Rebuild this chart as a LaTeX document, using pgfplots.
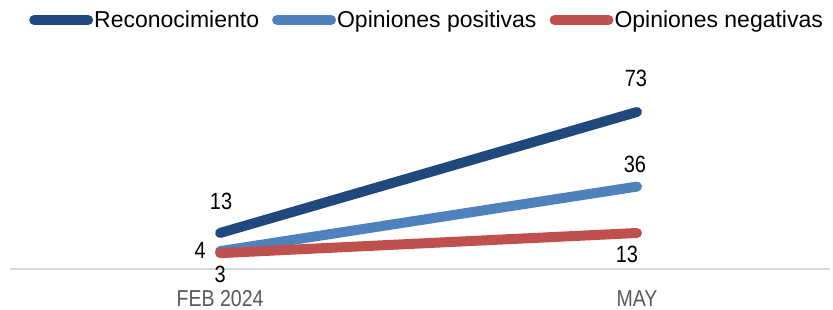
\documentclass[border=0pt]{standalone}
\usepackage{pgfplots}
\pgfplotsset{compat=1.18}
\usepackage{fontspec}
\setmainfont{Liberation Sans}
\newfontfamily\condfont{Liberation Sans}[FakeStretch=0.85]
\definecolor{cdark}{RGB}{31,73,125}
\definecolor{clight}{RGB}{79,129,189}
\definecolor{cred}{RGB}{192,80,77}
\definecolor{ctick}{RGB}{89,89,89}
\definecolor{cgrid}{RGB}{217,217,217}
\tikzset{dlab/.style={font=\condfont\fontsize{23.5bp}{27bp}\selectfont, text=black, anchor=base, inner sep=0pt}}
\begin{document}
\begin{tikzpicture}
\begin{axis}[
  at={(10bp,41bp)}, anchor=south west,
  scale only axis, width=820bp, height=224bp,
  xmin=-0.504, xmax=1.463, ymin=-4.86, ymax=106.2,
  axis x line*=bottom, axis y line=none,
  axis line style={cgrid, line width=1.3bp, -},
  xtick={0,1}, xticklabels={FEB 2024, MAY},
  xtick style={draw=none},
  xticklabel style={font=\condfont\fontsize{23bp}{27bp}\selectfont, text=ctick, anchor=base, yshift=-37bp},
  clip=false,
  legend columns=3,
  legend style={draw=none, fill=none, at={(0.508,1.1116)}, anchor=center,
    font=\fontsize{23bp}{27bp}\selectfont, text=black, inner sep=0pt,
    nodes={inner sep=1bp},
    /tikz/every even column/.append style={column sep=12bp}},
  legend image code/.code={\path (0bp,0bp) -- (54bp,0bp); \draw[line width=10bp, line cap=round, #1] (5bp,0bp) -- (49bp,0bp);},
  every axis plot/.append style={line width=10bp, line cap=round, mark=none},
]
\addplot[cdark] coordinates {(0,13) (1,73)}
  node[pos=0, dlab, xshift=1bp, yshift=23bp] {13}
  node[pos=1, dlab, xshift=-1bp, yshift=25bp] {73};
\addlegendentry{Reconocimiento}
\addplot[clight] coordinates {(0,4) (1,36)}
  node[pos=0, dlab, xshift=-20bp, yshift=-7bp] {4}
  node[pos=1, dlab, xshift=-2bp, yshift=14bp] {36};
\addlegendentry{Opiniones positivas}
\addplot[cred] coordinates {(0,3) (1,13)}
  node[pos=0, dlab, xshift=0bp, yshift=-29bp] {3}
  node[pos=1, dlab, xshift=-10bp, yshift=-30bp] {13};
\addlegendentry{Opiniones negativas}
\end{axis}
\pgfresetboundingbox
\path (0,0) rectangle (833bp,310bp);
\end{tikzpicture}
\end{document}
